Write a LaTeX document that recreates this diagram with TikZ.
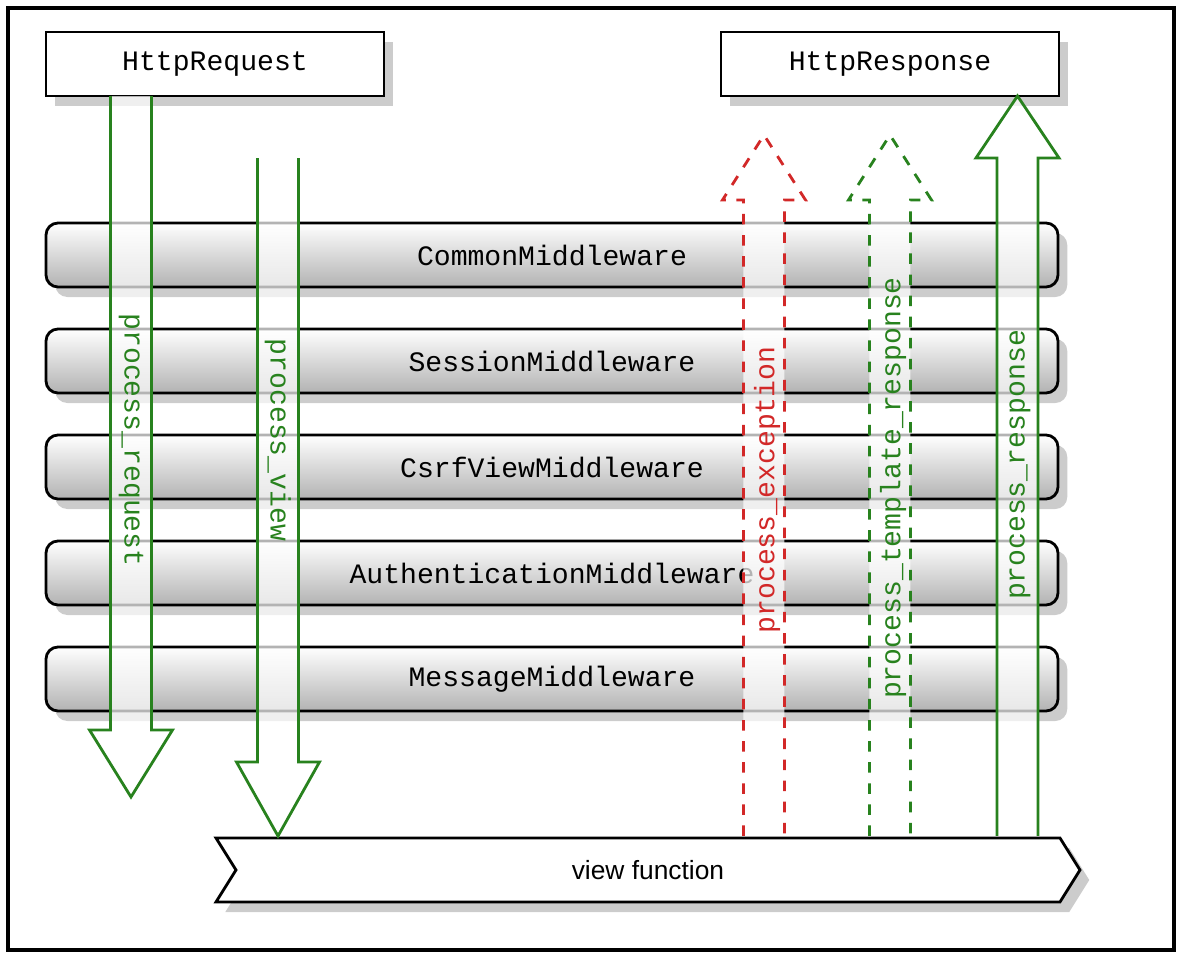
\documentclass[tikz,border=0pt]{standalone}
\usepackage{fontspec}
\setmainfont{Liberation Sans}
\newfontfamily\monofont{Liberation Mono}
\usetikzlibrary{shadows}

\definecolor{flowgreen}{RGB}{40,130,30}
\definecolor{flowred}{RGB}{210,40,40}

% block arrow: #1 style, #2 x, #3 tail y, #4 head base y, #5 tip y
\newcommand\blockarrow[5]{%
  \fill[white,opacity=0.7] (#2-0.205,#3) -- (#2-0.205,#4) -- (#2-0.415,#4) -- (#2,#5)
    -- (#2+0.415,#4) -- (#2+0.205,#4) -- (#2+0.205,#3) -- cycle;
  \draw[#1] (#2-0.205,#3) -- (#2-0.205,#4) -- (#2-0.415,#4) -- (#2,#5)
    -- (#2+0.415,#4) -- (#2+0.205,#4) -- (#2+0.205,#3);}

\begin{document}
\begin{tikzpicture}[x=1cm,y=1cm,
    endpoint/.style={draw=black,thick,fill=white,minimum width=3.38cm,
      minimum height=0.64cm,font=\monofont\fontsize{8}{9}\selectfont,
      drop shadow={opacity=0.4,shadow yshift=-0.1cm}},
    layer/.style={draw=black,thick,rounded corners=0.12cm,minimum width=10.12cm,
      minimum height=0.64cm,top color=white,bottom color=black!30,
      font=\monofont\fontsize{8}{9}\selectfont,
      drop shadow={opacity=0.4,shadow yshift=-0.1cm}},
    flow/.style={thick},
    flowlabel/.style={font=\monofont\fontsize{8}{9}\selectfont}]

  \useasboundingbox (0,0) rectangle (11.82,9.6);
  \draw[line width=1.4pt] (0.08,0.1) rectangle (11.74,9.52);

  % endpoints
  \node[endpoint] (request) at (2.15,8.96) {HttpRequest};
  \node[endpoint] (response) at (8.90,8.96) {HttpResponse};

  % middleware stack
  \node[layer] (common) at (5.52,7.05) {CommonMiddleware};
  \node[layer] (session) at (5.52,5.99) {SessionMiddleware};
  \node[layer] (csrf) at (5.52,4.93) {CsrfViewMiddleware};
  \node[layer] (auth) at (5.52,3.87) {AuthenticationMiddleware};
  \node[layer] (message) at (5.52,2.81) {MessageMiddleware};

  % view function
  \filldraw[thick,fill=white,drop shadow={opacity=0.4,shadow yshift=-0.1cm}]
    (2.16,1.22) -- (10.60,1.22) -- (10.80,0.90) -- (10.60,0.58)
    -- (2.16,0.58) -- (2.36,0.90) -- cycle;
  \node (view) at (6.48,0.90) {\fontsize{7.5}{9}\selectfont view function};

  % hooks
  \blockarrow{flow,draw=flowgreen}{1.31}{8.64}{2.30}{1.63}
  \blockarrow{flow,draw=flowgreen}{2.78}{8.02}{1.98}{1.24}
  \blockarrow{flow,draw=flowred,dashed}{7.64}{1.24}{7.60}{8.25}
  \blockarrow{flow,draw=flowgreen,dashed}{8.90}{1.24}{7.60}{8.25}
  \blockarrow{flow,draw=flowgreen}{10.175}{1.24}{8.02}{8.64}

  \node[flowlabel,text=flowgreen,rotate=-90] (preq) at (1.31,5.20) {process\_request};
  \node[flowlabel,text=flowgreen,rotate=-90] (pview) at (2.78,5.20) {process\_view};
  \node[flowlabel,text=flowred,rotate=90] (pexc) at (7.67,4.70) {process\_exception};
  \node[flowlabel,text=flowgreen,rotate=90] (ptpl) at (8.93,4.72) {process\_template\_response};
  \node[flowlabel,text=flowgreen,rotate=90] (presp) at (10.20,4.95) {process\_response};
\end{tikzpicture}
\end{document}
